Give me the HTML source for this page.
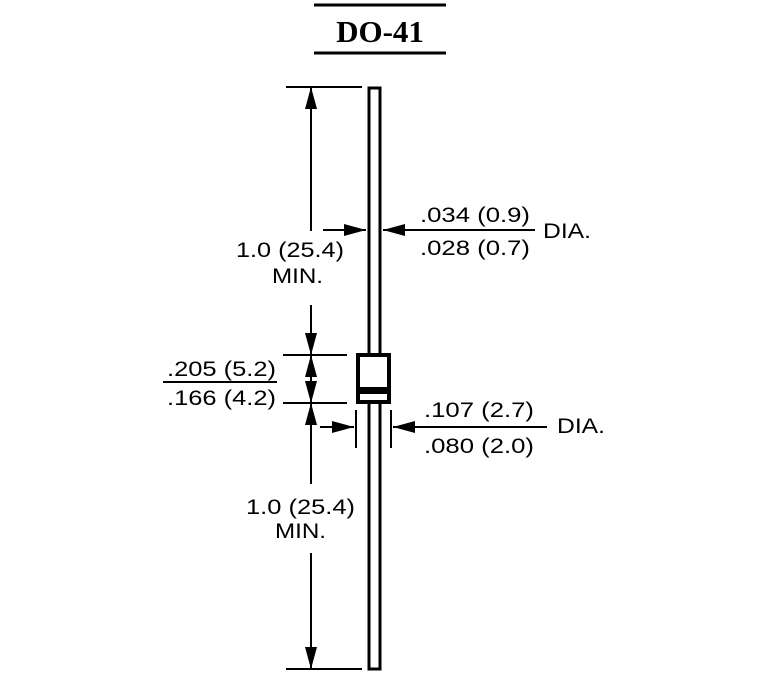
<!DOCTYPE html>
<html><head><meta charset="utf-8"><style>html,body{margin:0;padding:0;background:#fff}svg{display:block}</style></head>
<body>
<svg width="760" height="690" viewBox="0 0 760 690" xmlns="http://www.w3.org/2000/svg">
<defs>
<marker id="a" viewBox="0 0 22 12" refX="22" refY="6" markerWidth="22" markerHeight="12" markerUnits="userSpaceOnUse" orient="auto"><path d="M0,0 L22,6 L0,12 Z" fill="#000"/></marker>
</defs>
<g stroke="#000" stroke-width="3" fill="none">
<line x1="314" y1="5" x2="446" y2="5"/>
<line x1="314" y1="53" x2="446" y2="53"/>
</g>
<text x="380" y="42" font-family="Liberation Serif, serif" font-weight="bold" font-size="31" text-anchor="middle">DO-41</text>
<rect x="369" y="88" width="11" height="581" fill="#fff" stroke="#000" stroke-width="3"/>
<rect x="358" y="355" width="31" height="47" fill="#fff" stroke="#000" stroke-width="4"/>
<rect x="358" y="387" width="31" height="7" fill="#000"/>
<g stroke="#000" stroke-width="2" fill="none">
<line x1="286" y1="87" x2="362" y2="87"/>
<line x1="286" y1="669" x2="362" y2="669"/>
<line x1="283" y1="355" x2="347" y2="355"/>
<line x1="283" y1="403" x2="347" y2="403"/>
<line x1="356" y1="410" x2="356" y2="448"/>
<line x1="391" y1="410" x2="391" y2="448"/>
<line x1="311" y1="231" x2="311" y2="87" marker-end="url(#a)"/>
<line x1="311" y1="305" x2="311" y2="355" marker-end="url(#a)"/>
<line x1="311" y1="379" x2="311" y2="355" marker-end="url(#a)"/>
<line x1="311" y1="379" x2="311" y2="403" marker-end="url(#a)"/>
<line x1="311" y1="484" x2="311" y2="403" marker-end="url(#a)"/>
<line x1="311" y1="553" x2="311" y2="669" marker-end="url(#a)"/>
<line x1="323" y1="230" x2="366" y2="230" marker-end="url(#a)"/>
<line x1="535" y1="230" x2="383" y2="230" marker-end="url(#a)"/>
<line x1="320" y1="427" x2="354" y2="427" marker-end="url(#a)"/>
<line x1="547" y1="427" x2="393" y2="427" marker-end="url(#a)"/>
<line x1="163" y1="382" x2="277" y2="382"/>
</g>
<g font-family="Liberation Sans, sans-serif" font-size="21" fill="#000">
<text x="420" y="222" textLength="110" lengthAdjust="spacingAndGlyphs">.034 (0.9)</text>
<text x="420" y="255" textLength="110" lengthAdjust="spacingAndGlyphs">.028 (0.7)</text>
<text x="543" y="238" textLength="48" lengthAdjust="spacingAndGlyphs">DIA.</text>
<text x="236" y="257" textLength="108" lengthAdjust="spacingAndGlyphs">1.0 (25.4)</text>
<text x="272" y="283" textLength="51" lengthAdjust="spacingAndGlyphs">MIN.</text>
<text x="167" y="376" textLength="109" lengthAdjust="spacingAndGlyphs">.205 (5.2)</text>
<text x="167" y="405" textLength="109" lengthAdjust="spacingAndGlyphs">.166 (4.2)</text>
<text x="424" y="417" textLength="110" lengthAdjust="spacingAndGlyphs">.107 (2.7)</text>
<text x="424" y="453" textLength="110" lengthAdjust="spacingAndGlyphs">.080 (2.0)</text>
<text x="557" y="433" textLength="48" lengthAdjust="spacingAndGlyphs">DIA.</text>
<text x="246" y="514" textLength="109" lengthAdjust="spacingAndGlyphs">1.0 (25.4)</text>
<text x="275" y="538" textLength="51" lengthAdjust="spacingAndGlyphs">MIN.</text>
</g>
</svg>
</body></html>
